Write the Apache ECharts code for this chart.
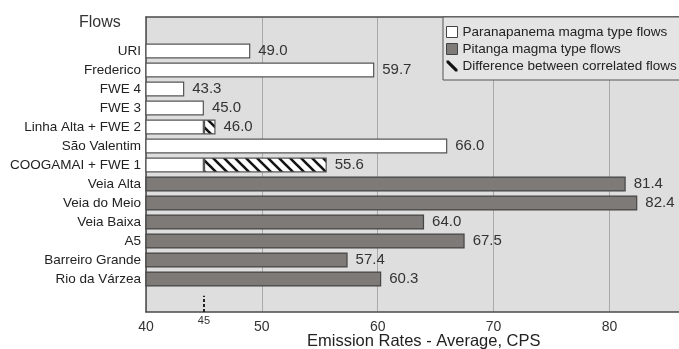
<!DOCTYPE html>
<html>
<head>
<meta charset="utf-8">
<script src="https://cdn.jsdelivr.net/npm/echarts@6/dist/echarts.min.js"></script>
<style>
  html, body { margin: 0; padding: 0; background: #ffffff; }
  #chart { width: 679px; height: 349px; }
</style>
</head>
<body>
<div id="chart"></div>
<script>
// Flow names, top to bottom
const categories = [
  'URI', 'Frederico', 'FWE 4', 'FWE 3', 'Linha Alta + FWE 2', 'São Valentim',
  'COOGAMAI + FWE 1', 'Veia Alta', 'Veia do Meio', 'Veia Baixa', 'A5',
  'Barreiro Grande', 'Rio da Várzea'
];
// Average emission rates (CPS), Paranapanema-type flows
const paranapanemaValues = [49.0, 59.7, 43.3, 45.0, 46.0, 66.0, 55.6, null, null, null, null, null, null];
// Average emission rates (CPS), Pitanga-type flows
const pitangaValues = [null, null, null, null, null, null, null, 81.4, 82.4, 64.0, 67.5, 57.4, 60.3];
// Flows that are correlated with another flow
const correlatedFlows = ['Linha Alta + FWE 2', 'COOGAMAI + FWE 1'];
// Reference level the correlated flows are compared against
const correlationLevel = 45;
// Axis ticks
const xTicks = [40, 50, 60, 70, 80];

const FONT = '"Liberation Sans", Arial, Helvetica, sans-serif';
const isCorrelated = i => correlatedFlows.indexOf(categories[i]) >= 0;

// Diagonal hatch tile for the correlated part of a bar
function hatchPattern() {
  const s = 11;
  const c = document.createElement('canvas');
  c.width = s; c.height = s;
  const g = c.getContext('2d');
  g.fillStyle = '#ffffff';
  g.fillRect(0, 0, s, s);
  g.strokeStyle = '#151515';
  g.lineWidth = 2.6;
  g.beginPath();
  g.moveTo(-2, -2); g.lineTo(s + 2, s + 2);
  g.moveTo(-s - 2, -2); g.lineTo(2, s + 2);
  g.moveTo(s - 2, -2); g.lineTo(2 * s + 2, s + 2);
  g.stroke();
  return { image: c, repeat: 'repeat' };
}

const labelStyle = {
  position: 'right', distance: 8, fontSize: 15, color: '#333', fontFamily: FONT,
  formatter: p => (p.value == null ? '' : Number(p.value).toFixed(1))
};

const whiteData = paranapanemaValues.map((v, i) => {
  if (v == null) return null;
  if (isCorrelated(i)) return { value: correlationLevel, label: { show: false } };
  return { value: v };
});
const hatchData = paranapanemaValues.map((v, i) =>
  (v != null && isCorrelated(i)) ? +(v - correlationLevel).toFixed(2) : null);

const xMin = 40, xMax = 86;
const plotLeft = 146;
const frameLine = { show: true, lineStyle: { color: '#4a4a4a', width: 1.5 } };

const chart = echarts.init(document.getElementById('chart'), null, { renderer: 'canvas' });
chart.setOption({
  animation: false,
  backgroundColor: '#ffffff',
  title: [
    { text: 'Flows', left: 79, top: 15, padding: 0,
      textStyle: { fontSize: 16, fontWeight: 'normal', color: '#333', fontFamily: FONT } },
    { text: 'Emission Rates - Average, CPS', left: 307, top: 333, padding: 0,
      textStyle: { fontSize: 16.5, fontWeight: 'normal', color: '#222', fontFamily: FONT } }
  ],
  legend: {
    orient: 'vertical', left: 443, top: 17,
    backgroundColor: '#e4e4e4', borderColor: '#555', borderWidth: 1,
    padding: [8, 30, 7, 3], itemWidth: 11, itemHeight: 11, itemGap: 3,
    textStyle: { fontSize: 13.5, color: '#222', fontFamily: FONT },
    data: [
      { name: 'Paranapanema magma type flows', icon: 'rect',
        itemStyle: { color: '#ffffff', borderColor: '#444', borderWidth: 1 } },
      { name: 'Pitanga magma type flows', icon: 'rect',
        itemStyle: { color: '#7d7a77', borderColor: '#444', borderWidth: 1 } },
      { name: 'Difference between correlated flows',
        icon: 'path://M0,0 L2,0 L10,8 L10,10 L8,10 L0,2 Z',
        itemStyle: { color: '#111', borderWidth: 0 } }
    ]
  },
  grid: [
    { left: plotLeft, right: 0, top: 17, height: 295, show: true,
      backgroundColor: '#dedede', borderWidth: 0 },
    { left: plotLeft, right: 0, top: 41.5, height: 247 }
  ],
  xAxis: [
    { gridIndex: 0, type: 'value', min: xMin, max: xMax, interval: 10,
      axisLine: frameLine,
      axisTick: { show: false },
      axisLabel: { margin: 8, fontSize: 14, color: '#333', fontFamily: FONT, showMaxLabel: false,
        formatter: v => (xTicks.indexOf(v) >= 0 ? String(v) : '') },
      splitLine: { show: true, lineStyle: { color: '#a9a9a9', width: 1 } } },
    { gridIndex: 1, type: 'value', min: xMin, max: xMax, show: false },
    // top edge of the plot frame
    { gridIndex: 0, type: 'value', position: 'top', min: xMin, max: xMax,
      axisLine: frameLine, axisTick: { show: false }, axisLabel: { show: false },
      splitLine: { show: false } }
  ],
  yAxis: [
    { gridIndex: 0, type: 'value', min: 0, max: 1, position: 'left',
      axisLine: frameLine, axisTick: { show: false }, axisLabel: { show: false },
      splitLine: { show: false } },
    { gridIndex: 1, type: 'category', inverse: true, data: categories,
      axisLine: { show: false }, axisTick: { show: false },
      axisLabel: { margin: 5, fontSize: 13.5, color: '#222', fontFamily: FONT } }
  ],
  series: [
    { name: 'Paranapanema magma type flows', type: 'bar', stack: 'flow',
      xAxisIndex: 1, yAxisIndex: 1, barWidth: 15, data: whiteData,
      itemStyle: { color: '#ffffff', borderColor: '#555', borderWidth: 1.2 },
      label: Object.assign({ show: true }, labelStyle) },
    { name: 'Difference between correlated flows', type: 'bar', stack: 'flow',
      xAxisIndex: 1, yAxisIndex: 1, barWidth: 15, data: hatchData,
      itemStyle: { color: hatchPattern(), borderColor: '#555', borderWidth: 1.2 },
      label: Object.assign({}, labelStyle, { show: true,
        formatter: p => (p.value == null ? '' : paranapanemaValues[p.dataIndex].toFixed(1)) }) },
    { name: 'Pitanga magma type flows', type: 'bar', stack: 'flow',
      xAxisIndex: 1, yAxisIndex: 1, barWidth: 15, data: pitangaValues,
      itemStyle: { color: '#7d7a77', borderColor: '#454545', borderWidth: 1.2 },
      label: Object.assign({ show: true }, labelStyle) },
    { name: 'level', type: 'line', xAxisIndex: 0, yAxisIndex: 0, data: [],
      markLine: {
        silent: true, symbol: 'none',
        lineStyle: { type: [3, 2], color: '#222', width: 2 },
        label: { show: true, position: 'start', distance: 3, formatter: String(correlationLevel),
          fontSize: 11, color: '#333', fontFamily: FONT },
        data: [[{ coord: [correlationLevel, 0] }, { coord: [correlationLevel, 0.055] }]]
      } }
  ]
});
</script>
</body>
</html>
